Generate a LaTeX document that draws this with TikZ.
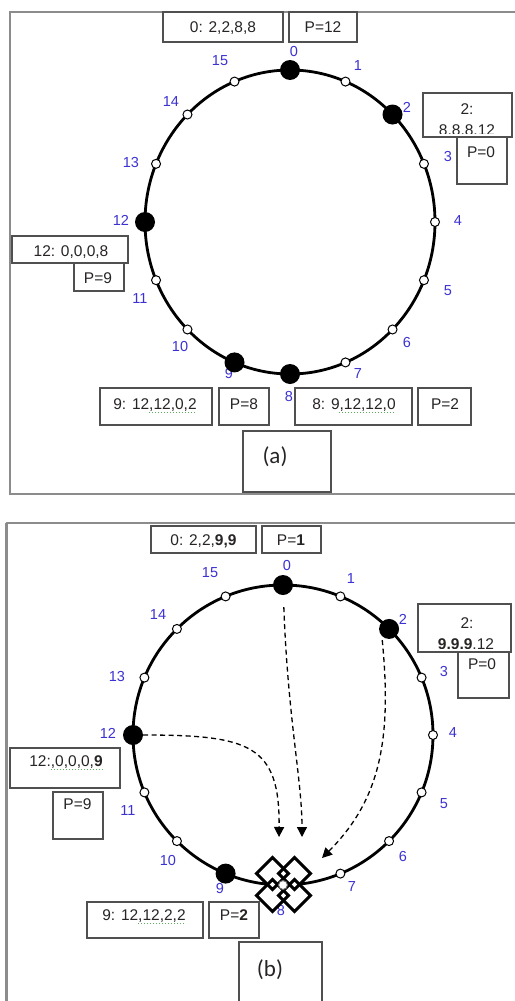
\documentclass[tikz,border=0pt]{standalone}
\usepackage{fontspec}
\setmainfont{Liberation Sans}
\newfontfamily\capfont{Carlito}
\usetikzlibrary{arrows.meta}
\definecolor{lblue}{RGB}{60,50,210}
\definecolor{boxline}{RGB}{80,80,80}
\definecolor{boxtext}{RGB}{40,36,36}
\definecolor{framec}{RGB}{140,140,140}
\definecolor{squig}{RGB}{90,175,90}
\begin{document}
\begin{tikzpicture}[x=1pt,y=-1pt,
  frame/.style={draw=framec,line width=2pt},
  box/.style={draw=boxline,line width=1.4pt},
  btxt/.style={inner sep=0pt,anchor=base,text=boxtext,font=\fontsize{15.5}{17}\selectfont},
  captxt/.style={inner sep=0pt,anchor=base,text=boxtext,font=\capfont\fontsize{23}{26}\selectfont},
  nlab/.style={inner sep=0pt,text=lblue,font=\fontsize{14.5}{16}\selectfont},
  ring/.style={line width=2.8pt},
  opennode/.style={circle,draw=black,fill=white,line width=1pt,minimum size=9pt,inner sep=0pt},
  bignode/.style={circle,fill=black,minimum size=20pt,inner sep=0pt},
  flow/.style={line width=1.3pt,dash pattern=on 5pt off 3.5pt,-{Triangle[width=10pt,length=10pt]}},
  squiggle/.style={draw=squig,line width=1pt,dotted},
  dmdfill/.style={fill=white},
  dmdline/.style={draw=black,line width=3pt,line join=miter},
]
\useasboundingbox (0,0) rectangle (514,1001);
\fill[white] (0,0) rectangle (514,1001);

% ---------------- panel (a) ----------------
\draw[frame] (520,12) -- (10,12) -- (10,494) -- (520,494);
\draw[ring] (290,222) ellipse [x radius=145, y radius=152];
\foreach \k/\x/\y in {0/294/52,1/358/66,2/407/107,3/448/157,4/458/221,5/448/291,6/407/343,7/358/374,8/289/397,9/229/374,10/180/347,11/140/299,12/121/220,13/131/163,14/171/102,15/220/61}
  \node[nlab] (lA\k) at (\x,\y) {\k};
\foreach \k/\s in {0/bignode,1/opennode,2/bignode,3/opennode,4/opennode,5/opennode,6/opennode,7/opennode,8/bignode,9/bignode,10/opennode,11/opennode,12/bignode,13/opennode,14/opennode,15/opennode}
  \node[\s] (nA\k) at ({290+145*sin(22.5*\k)},{222-152*cos(22.5*\k)}) {};

\draw[box] (163,12) rectangle (283,42);
\draw[box] (289,12) rectangle (357,42);
\draw[box] (423,93) rectangle (512,137);
\draw[box] (457,137) rectangle (507,184);
\draw[box] (12,236) rectangle (128,263);
\draw[box] (74,263) rectangle (124,291);
\draw[box] (100,388) rectangle (212,425);
\draw[box] (219,388) rectangle (269,425);
\draw[box] (295,388) rectangle (412,425);
\draw[box] (418,388) rectangle (471,425);
\draw[box] (243,431) rectangle (331,492);

\node[btxt] (tA0) at (223,32.5) {0: 2,2,8,8};
\node[btxt] (tAP0) at (323,32.5) {P=12};
\node[btxt] (tA2a) at (467,114.5) {2:};
\begin{scope}
  \clip (424,94) rectangle (511,133.5);
  \node[btxt] (tA2b) at (467,135.5) {8,8,8,12};
\end{scope}
\node[btxt] (tAP2) at (481,157.5) {P=0};
\node[btxt] (tA12) at (71,256.5) {12: 0,0,0,8};
\node[btxt] (tAP12) at (98,283.5) {P=9};
\node[btxt] (tA9) at (155,409.5) {9: 12,12,0,2};
\node[btxt] (tAP9) at (244,409.5) {P=8};
\node[btxt] (tA8) at (354,409.5) {8: 9,12,12,0};
\node[btxt] (tAP8) at (445,409.5) {P=2};
\node[captxt] (capA) at (275,463) {(a)};
\draw[squiggle] (149,412) -- (196,412);
\draw[squiggle] (339,412) -- (395,412);

% ---------------- panel (b) ----------------
\draw[frame] (520,523) -- (7,523) -- (7,1010);
\draw[framec,line width=3pt] (6,523) -- (6,1010);
\draw[ring] (283,735) circle [radius=150];
\foreach \k/\x/\y in {0/287/566,1/351/579,2/403/619,3/444/671,4/453/733,5/444/804,6/403/856,7/352/887,8/281/910,9/220/888,10/168/860,11/128/811,12/108/733,13/117/676,14/158/615,15/210/573}
  \node[nlab] (lB\k) at (\x,\y) {\k};
\foreach \k/\s in {0/bignode,1/opennode,2/bignode,3/opennode,4/opennode,5/opennode,6/opennode,7/opennode,9/bignode,10/opennode,11/opennode,12/bignode,13/opennode,14/opennode,15/opennode}
  \node[\s] (nB\k) at ({283+150*sin(22.5*\k)},{735-150*cos(22.5*\k)}) {};

% diamond marker cluster around node 8: white fills first, then all outlines
\foreach \dx/\dy in {-11/-11,11/-11,-11/11,11/11}
  \fill[dmdfill] ({283.5+\dx},{884.5+\dy-16}) -- ({283.5+\dx+16},{884.5+\dy}) -- ({283.5+\dx},{884.5+\dy+16}) -- ({283.5+\dx-16},{884.5+\dy}) -- cycle;
\foreach \dx/\dy in {-11/-11,11/-11,-11/11,11/11}
  \draw[dmdline] ({283.5+\dx},{884.5+\dy-16}) -- ({283.5+\dx+16},{884.5+\dy}) -- ({283.5+\dx},{884.5+\dy+16}) -- ({283.5+\dx-16},{884.5+\dy}) -- cycle;
\node[opennode,draw=black!60] (nB8) at ({283+150*sin(180)},{735-150*cos(180)}) {};

% dashed arrows
\coordinate (tipA) at (302,837);
\coordinate (tipB) at (322,858);
\coordinate (tipC) at (279,837);
\draw[flow,shorten <=12pt] (nB0) .. controls (288,720) and (302,780) .. (tipA);
\draw[flow,shorten <=4pt] (nB2.south west) .. controls (392,740) and (380,800) .. (tipB);
\draw[flow] (nB12) .. controls (250,735) and (280,745) .. (tipC);

\draw[box] (151,526) rectangle (256,553);
\draw[box] (262,526) rectangle (321,553);
\draw[box] (418,604) rectangle (511,652);
\draw[box] (458,652) rectangle (509,698);
\draw[box] (10,748) rectangle (120,788);
\draw[box] (53,792) rectangle (103,839);
\draw[box] (87,902) rectangle (203,938);
\draw[box] (209,902) rectangle (259,938);
\draw[box] (239,942) rectangle (322,1010);

\node[btxt] (tB0) at (203.5,545.5) {0: 2,2,\textbf{9,9}};
\node[btxt] (tBP0) at (291,545.5) {P=\textbf{1}};
\node[btxt] (tB2a) at (467,628.5) {2:};
\begin{scope}
  \clip (419,605) rectangle (510,648.5);
  \node[btxt] (tB2b) at (466,649) {\textbf{9,9,9},12};
\end{scope}
\node[btxt] (tBP2) at (482,669.5) {P=0};
\node[btxt] (tB12) at (66,766.5) {12:,0,0,0,\textbf{9}};
\node[btxt] (tBP12) at (77.5,809.5) {P=9};
\node[btxt] (tB9) at (144,920.5) {9: 12,12,2,2};
\node[btxt] (tBP9) at (234,920.5) {P=\textbf{2}};
\node[captxt] (capB) at (270,976) {(b)};
\draw[squiggle] (51,769) -- (103,769);
\draw[squiggle] (138,923) -- (185,923);
\end{tikzpicture}
\end{document}
